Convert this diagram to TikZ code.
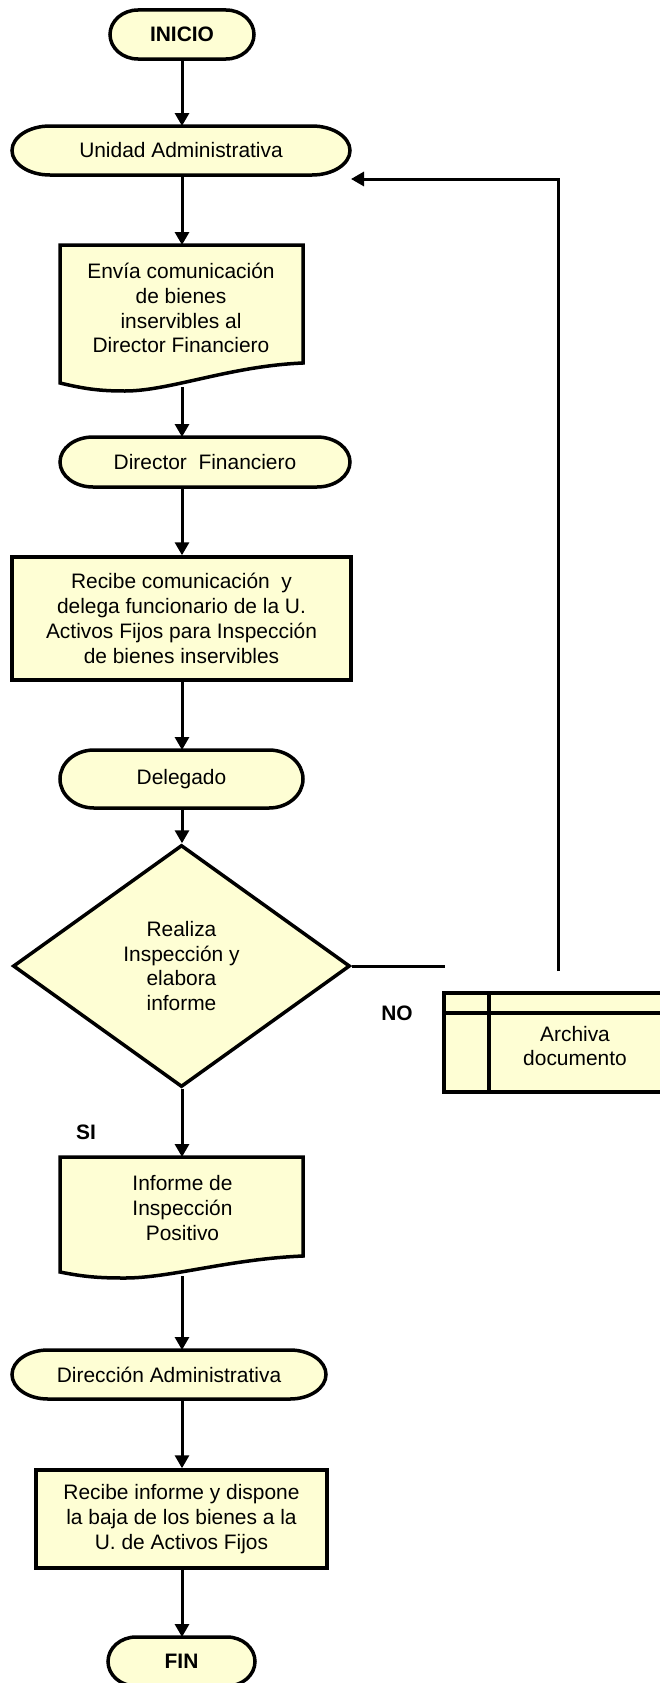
\documentclass[tikz,border=0pt]{standalone}
\usepackage{fontspec}
\setmainfont{Liberation Sans}
\usetikzlibrary{arrows.meta,shapes.geometric}
\definecolor{boxfill}{RGB}{254,254,212}

% Oval terminal: name, centre, width, height, horizontal cap radius, text
\newcommand\capnode[6]{%
  \node[rectangle, minimum width=#3, minimum height=#4, outer sep=0pt] (#1) at #2 {};
  \draw[shapeline] ([xshift=#5]#1.north west) -- ([xshift=-#5]#1.north east)
    arc[start angle=90, end angle=-90, x radius=#5, y radius=#4/2]
    -- ([xshift=#5]#1.south west)
    arc[start angle=270, end angle=90, x radius=#5, y radius=#4/2] -- cycle;
  \node at (#1) {#6};
}

\begin{document}
\begin{tikzpicture}[x=1bp, y=-1bp,
  every node/.style={font=\fontsize{21}{25}\selectfont, inner sep=0pt, align=center},
  shapeline/.style={draw=black, line width=3.5bp, fill=boxfill},
  procbox/.style={shapeline, rectangle},
  flow/.style={line width=3bp, -{Triangle[length=13bp,width=14bp]}},
  plain/.style={line width=3bp},
  lbl/.style={font=\fontsize{21}{25}\selectfont\bfseries}]

\useasboundingbox (0,0) rectangle (660,1683);
\clip (0,0) rectangle (660,1683);

% ---- main column ----
\capnode{inicio}{(182,34.5)}{144bp}{49bp}{28bp}{\bfseries INICIO}
\capnode{unidad}{(181,150.5)}{338bp}{49bp}{38bp}{\raisebox{-3bp}{Unidad Administrativa}}

% document: communication sent
\node[rectangle, minimum width=243bp, minimum height=138bp, outer sep=0pt] (envia) at (181.5,314) {};
\draw[shapeline] (60,245) -- (303,245) -- (303,363)
  .. controls (230,366) and (170,391) .. (125,391)
  .. controls (100,391) and (85,389) .. (60,383) -- cycle;
\node (enviatxt) at (181,308) {Envía comunicación\\de bienes\\inservibles al\\Director Financiero};
\coordinate (enviab) at (182,387);

\capnode{dirfin}{(205,462)}{290bp}{50bp}{33bp}{\raisebox{-2bp}{Director\ \ Financiero}}

\node[procbox, minimum width=339bp, minimum height=123bp] (recibe) at (181.5,618.5)
  {Recibe comunicación\ \ y\\delega funcionario de la U.\\Activos Fijos para Inspección\\de bienes inservibles};

\capnode{delegado}{(181.5,779)}{243bp}{58bp}{34bp}{Delegado}

\node[shapeline, diamond, minimum width=337bp, minimum height=242bp] (decide) at (181.5,966)
  {Realiza\\Inspección y\\elabora\\informe};

% ---- NO branch: archive ----
\node[procbox, minimum width=218bp, minimum height=99bp] (archiva) at (553,1042.5) {};
\draw[line width=3.5bp] (444,1013) -- (662,1013);
\draw[line width=3.5bp] (489,993) -- (489,1092);
\node (archtxt) at (575,1046) {Archiva\\documento};

\node[lbl] (nolbl) at (397,1013) {NO};
\node[lbl] (silbl) at (86,1132) {SI};

% document: positive report
\node[rectangle, minimum width=243bp, minimum height=115bp, outer sep=0pt] (informe) at (181.5,1214.5) {};
\draw[shapeline] (60,1157) -- (303,1157) -- (303,1256)
  .. controls (230,1259) and (170,1278) .. (125,1278)
  .. controls (100,1278) and (85,1277) .. (60,1272) -- cycle;
\node (informetxt) at (182.5,1208) {Informe de\\Inspección\\Positivo};
\coordinate (informeb) at (182,1276);

\capnode{diradm}{(169,1374.5)}{314bp}{49bp}{36bp}{\raisebox{-3bp}{Dirección Administrativa}}

\node[procbox, minimum width=291bp, minimum height=98bp] (dispone) at (181.5,1519)
  {Recibe informe y dispone\\la baja de los bienes a la\\U. de Activos Fijos};

\capnode{fin}{(181.5,1661.5)}{147bp}{49bp}{28bp}{\bfseries FIN}

% ---- connectors ----
\coordinate (noend) at (445,966);
\coordinate (retstart) at (558,971);
\coordinate (unidadin) at (351,179);

\draw[flow] (inicio.south) -- (inicio.south |- unidad.north);
\draw[flow] (unidad.south -| inicio) -- (envia.north -| inicio);
\draw[flow] (enviab) -- (enviab |- dirfin.north);
\draw[flow] (dirfin.south -| inicio) -- (recibe.north -| inicio);
\draw[flow] (recibe.south -| inicio) -- (delegado.north -| inicio);
\draw[flow] (delegado.south -| inicio) -- (decide.north -| inicio);
\draw[plain] (decide.east) -- (noend);
\draw[flow] (retstart) |- (unidadin);
\draw[flow] (decide.south -| inicio) -- (informe.north -| inicio);
\draw[flow] (informeb) -- (informeb |- diradm.north);
\draw[flow] (diradm.south -| inicio) -- (dispone.north -| inicio);
\draw[flow] (dispone.south -| inicio) -- (fin.north -| inicio);
\end{tikzpicture}
\end{document}
